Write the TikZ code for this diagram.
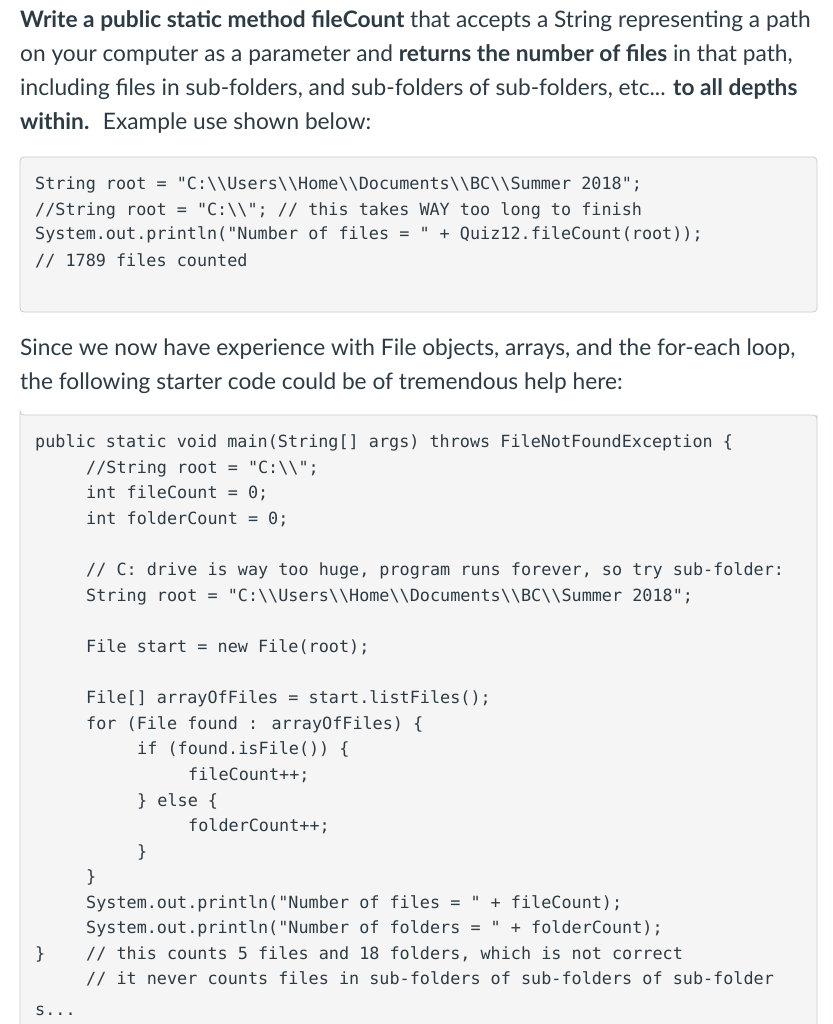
\documentclass[tikz,border=0pt]{standalone}
\usepackage{fontspec}
\setmainfont{Lato}
\newfontfamily\codefont{DejaVu Sans Mono}
\definecolor{txt}{HTML}{2D3B45}
\definecolor{boxfill}{HTML}{F5F5F5}
\definecolor{boxline}{HTML}{C7CDD1}
\tikzset{prose/.style={anchor=base west,inner sep=0pt,font=\fontsize{22.7}{27}\selectfont,text=txt},
code/.style={anchor=base west,inner sep=0pt,font=\codefont\fontsize{16.8}{20}\selectfont,text=txt},
codebox/.style={draw=boxline,fill=boxfill,rounded corners=4pt,line width=0.8pt}}
\begin{document}
\begin{tikzpicture}[x=1pt,y=-1pt]
\useasboundingbox[fill=white] (0,0) rectangle (832,1024);
\node[prose] (p1) at (20,28) {\textbf{Write a public static method fileCount} that accepts a String representing a path};
\node[prose] (p2) at (20,62) {on your computer as a parameter and \textbf{returns the number of files} in that path,};
\node[prose] (p3) at (20,96) {including files in sub-folders, and sub-folders of sub-folders, etc... \textbf{to all depths}};
\node[prose] (p4) at (20,130) {\textbf{within.} \ Example use shown below:};
\draw[codebox] (20,157) rectangle (817,312);
\node[code] (a1) at (35,190) {String root = "C:\textbackslash\textbackslash Users\textbackslash\textbackslash Home\textbackslash\textbackslash Documents\textbackslash\textbackslash BC\textbackslash\textbackslash Summer 2018";};
\node[code] (a2) at (35,215) {//String root = "C:\textbackslash\textbackslash"; // this takes WAY too long to finish};
\node[code] (a3) at (35,240) {System.out.println("Number of files = " + Quiz12.fileCount(root));};
\node[code] (a4) at (35,266) {// 1789 files counted};
\node[prose] (q1) at (20,355) {Since we now have experience with File objects, arrays, and the for-each loop,};
\node[prose] (q2) at (20,389) {the following starter code could be of tremendous help here:};
\draw[codebox] (20,415) -- (20,1030) -- (817,1030) -- (817,419) [rounded corners=4pt] -- (817,415) -- (20,415) -- cycle;
\node[code] (b1) at (35,447) {public static void main(String[] args) throws FileNotFoundException \{};
\node[code] (b2) at (86,473) {//String root = "C:\textbackslash\textbackslash";};
\node[code] (b3) at (86,498) {int fileCount = 0;};
\node[code] (b4) at (86,524) {int folderCount = 0;};
\node[code] (b5) at (86,575) {// C: drive is way too huge, program runs forever, so try sub-folder:};
\node[code] (b6) at (86,601) {String root = "C:\textbackslash\textbackslash Users\textbackslash\textbackslash Home\textbackslash\textbackslash Documents\textbackslash\textbackslash BC\textbackslash\textbackslash Summer 2018";};
\node[code] (b7) at (86,652) {File start = new File(root);};
\node[code] (b8) at (86,703) {File[] arrayOfFiles = start.listFiles();};
\node[code] (b9) at (86,729) {for (File found : arrayOfFiles) \{};
\node[code] (b10) at (137,754) {if (found.isFile()) \{};
\node[code] (b11) at (188,780) {fileCount++;};
\node[code] (b12) at (137,806) {\} else \{};
\node[code] (b13) at (188,831) {folderCount++;};
\node[code] (b14) at (137,857) {\}};
\node[code] (b15) at (86,882) {\}};
\node[code] (b16) at (86,908) {System.out.println("Number of files = " + fileCount);};
\node[code] (b17) at (86,933) {System.out.println("Number of folders = " + folderCount);};
\node[code] (b18) at (35,959) {\}};
\node[code] (b19) at (86,959) {// this counts 5 files and 18 folders, which is not correct};
\node[code] (b20) at (86,984) {// it never counts files in sub-folders of sub-folders of sub-folder};
\node[code] (b21) at (35,1015) {s...};
\end{tikzpicture}
\end{document}
